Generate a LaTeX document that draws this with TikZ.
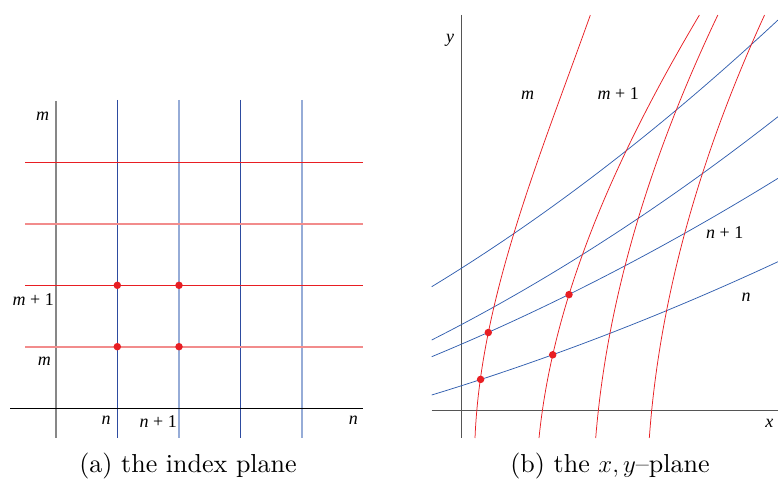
\documentclass[tikz,border=0pt]{standalone}
\usepackage{fontspec}
\newfontfamily\tms{Liberation Serif}
\newfontfamily\capfont{lmroman10-regular.otf}[Ligatures=TeX]
\definecolor{rd}{RGB}{232,30,35}
\definecolor{lrd}{RGB}{242,140,140}
\definecolor{bl}{RGB}{45,75,160}
\definecolor{lbl}{RGB}{150,172,215}
\definecolor{cbl}{RGB}{50,95,175}
\definecolor{gr}{RGB}{135,135,135}
\definecolor{ax}{RGB}{85,85,85}
\tikzset{
  thinred/.style={draw=rd, line width=0.8pt},
  lightred/.style={draw=lrd, line width=2pt},
  thinblue/.style={draw=bl, line width=0.8pt},
  lightblue/.style={draw=lbl, line width=2pt},
  curvered/.style={draw=rd, line width=0.75pt},
  curveblue/.style={draw=cbl, line width=0.75pt},
  dot/.style={circle, fill=rd, inner sep=0pt, minimum size=7.5pt},
  lab/.style={inner sep=0pt, font=\fontsize{18}{18}\selectfont\tms},
  captext/.style={inner sep=0pt, font=\fontsize{26}{26}\selectfont\capfont},
}
\begin{document}
\begin{tikzpicture}[x=1pt,y=-1pt]
\useasboundingbox (0,0) rectangle (778,481);
% ---------- (a) index plane ----------
\draw[gr, line width=2pt] (55.7,101) -- (55.7,438);
\draw[thinblue] (117.3,100) -- (117.3,438);
\draw[lightblue] (179,100) -- (179,438);
\draw[thinblue] (240,100) -- (240,438);
\draw[lightblue] (301.7,100) -- (301.7,438);
\draw[thinred] (25,162.3) -- (363.3,162.3);
\draw[lightred] (25,224) -- (363.3,224);
\draw[thinred] (25,285.3) -- (363.3,285.3);
\draw[lightred] (25,346.7) -- (363.3,346.7);
\draw[black, line width=0.8pt] (10,408.3) -- (363.3,408.3);
\node[dot] (a1) at (117.3,285.3) {};
\node[dot] (a2) at (179,285.3) {};
\node[dot] (a3) at (117.3,346.7) {};
\node[dot] (a4) at (179,346.7) {};
\node[lab] (lm1) at (42.7,116.7) {\textit{m}};
\node[lab] (lm2) at (33.3,300) {\textit{m} + 1};
\node[lab] (lm3) at (44.3,361.7) {\textit{m}};
\node[lab] (ln1) at (106,420) {\textit{n}};
\node[lab] (ln2) at (158.3,421.7) {\textit{n} + 1};
\node[lab] (ln3) at (353.3,420) {\textit{n}};
% ---------- (b) x,y plane ----------
\draw[ax, line width=1.3pt] (461.7,15) -- (461.7,438);
\draw[ax, line width=1.3pt] (431.7,410.7) -- (778,410.7);
% blue curves  y = a + B s + C s^2,  x = 431.7 + 100 s
\draw[curveblue] plot[domain=0:3.463, samples=60, variable=\s] ({431.7+100*\s}, {395-30.48*\s-2.314*\s*\s});
\draw[curveblue] plot[domain=0:3.463, samples=60, variable=\s] ({431.7+100*\s}, {356.7-41.347*\s-2.936*\s*\s});
\draw[curveblue] plot[domain=0:3.463, samples=60, variable=\s] ({431.7+100*\s}, {340-50.659*\s-3.992*\s*\s});
\draw[curveblue] plot[domain=0:3.463, samples=60, variable=\s] ({431.7+100*\s}, {286.7-60.778*\s-4.688*\s*\s});
% red curves  x = x0 + b t + c t^2 + d t^3,  y = 438 - 100 t
\draw[curvered] plot[domain=0:4.23, samples=60, variable=\t] ({475+4.095*\t+8.977*\t*\t-0.8271*\t*\t*\t}, {438-100*\t});
\draw[curvered] plot[domain=0:4.23, samples=60, variable=\t] ({539+10.023*\t+8.107*\t*\t-0.3574*\t*\t*\t}, {438-100*\t});
\draw[curvered] plot[domain=0:4.23, samples=60, variable=\t] ({595.7+8.070*\t+5.407*\t*\t-0.1157*\t*\t*\t}, {438-100*\t});
\draw[curvered] plot[domain=0:4.23, samples=60, variable=\t] ({649.3+7.224*\t+5.082*\t*\t-0.0825*\t*\t*\t}, {438-100*\t});
\node[dot] (b1) at (480.6,379.4) {};
\node[dot] (b2) at (488.3,332.5) {};
\node[dot] (b3) at (552.7,354.8) {};
\node[dot] (b4) at (569,294.6) {};
\node[lab] (ly) at (450,40) {\textit{y}};
\node[lab] (lx) at (769.3,423.3) {\textit{x}};
\node[lab] (rm1) at (527.7,95) {\textit{m}};
\node[lab] (rm2) at (618.3,94) {\textit{m} + 1};
\node[lab] (rn2) at (724.7,232.3) {\textit{n} + 1};
\node[lab] (rn1) at (746,297.7) {\textit{n}};
% captions
\node[captext] (capa) at (188,466) {(a) the index plane};
\node[captext] (capb) at (610,466) {(b) the $x, y$--plane};
\end{tikzpicture}
\end{document}
